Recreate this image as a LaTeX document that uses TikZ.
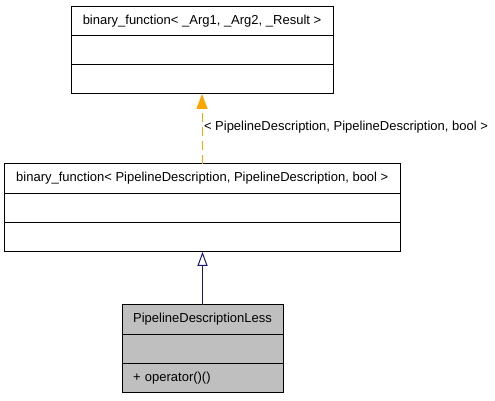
\documentclass[tikz,border=0pt]{standalone}
\usepackage{fontspec}
\setmainfont{Liberation Sans}
\usetikzlibrary{arrows.meta}
\definecolor{inhblue}{HTML}{191970}
\definecolor{tplorange}{HTML}{FFA500}
\definecolor{classgray}{HTML}{BFBFBF}
\tikzset{
	classrow/.style={draw=black,line width=1pt,inner sep=0pt,outer sep=0pt,minimum height=29.3pt,font=\fontsize{13}{15}\selectfont},
	tplarrow/.style={tplorange,line width=1pt,dash pattern=on 9pt off 5pt,-{Triangle[length=15pt,width=11pt]}},
	inharrow/.style={inhblue,line width=1pt,-{Triangle[open,length=14pt,width=10pt,fill=white]}}
}
\begin{document}
\begin{tikzpicture}[x=1pt,y=1pt]
			\useasboundingbox (0,0) rectangle (495,400);
			\node[classrow,minimum width=262pt] (baseName) at (202,379.3) {binary\_function< \_Arg1, \_Arg2, \_Result >};
			\node[classrow,minimum width=262pt] (baseAttr) at (202,350) {};
			\node[classrow,minimum width=262pt] (baseOps) at (202,320.7) {};
			
			\node[classrow,minimum width=396pt] (instName) at (202.3,221.4) {binary\_function< PipelineDescription, PipelineDescription, bool >};
			\node[classrow,minimum width=396pt] (instAttr) at (202.3,192.1) {};
			\node[classrow,minimum width=396pt] (instOps) at (202.3,162.8) {};
			
			\node[classrow,fill=classgray,minimum width=161pt] (lessName) at (202.5,80.4) {PipelineDescriptionLess};
			\node[classrow,fill=classgray,minimum width=161pt] (lessAttr) at (202.5,51.1) {};
			\node[classrow,fill=classgray,minimum width=161pt,text width=139pt,align=left] (lessOps) at (202.5,21.8) {+ operator()()};
			
			\draw[tplarrow] (instName.north -| baseOps.south) -- (baseOps.south) node[pos=0.52,right=1.5pt,inner sep=0pt,font=\fontsize{13}{15}\selectfont,black] {< PipelineDescription, PipelineDescription, bool >};
			\draw[inharrow] (lessName.north) -- (instOps.south -| lessName.north);
		\end{tikzpicture}
\end{document}
